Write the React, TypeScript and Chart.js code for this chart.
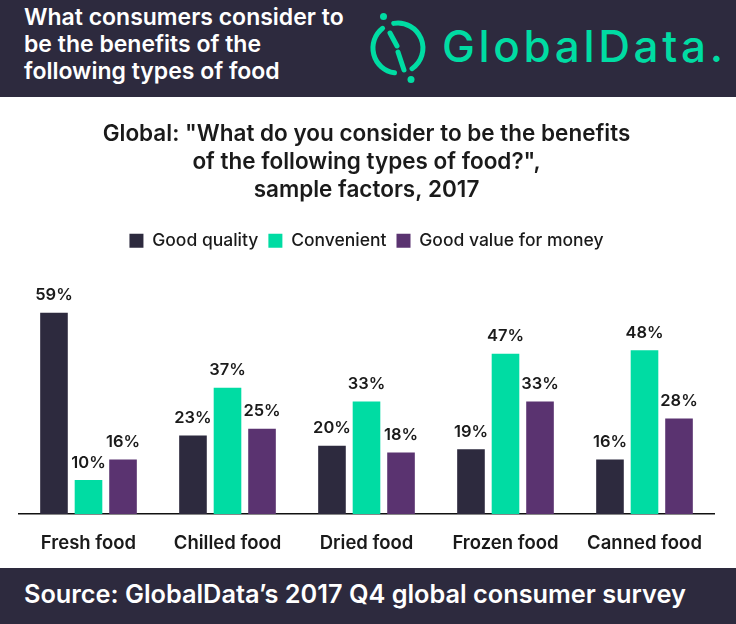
import React, { useEffect, useRef } from "react";
import { Chart, registerables } from "chart.js";

Chart.register(...registerables);

const categories = ["Fresh food", "Chilled food", "Dried food", "Frozen food", "Canned food"];
const goodQuality = [59, 23, 20, 19, 16];
const convenient = [10, 37, 33, 47, 48];
const goodValue = [16, 25, 18, 33, 28];
const seriesNames = ["Good quality", "Convenient", "Good value for money"];
const titleLines = ['Global: "What do you consider to be the benefits', 'of the following types of food?",', "sample factors, 2017"];

const DARK = "#2d2a3e";
const GREEN = "#00dca3";
const PURPLE = "#5a3370";
const FONT = "Inter, Roboto, sans-serif";

const valueLabels = {
  id: "valueLabels",
  afterDatasetsDraw(chart: any) {
    const ctx = chart.ctx;
    ctx.save();
    ctx.font = `600 16.5px ${FONT}`;
    ctx.fillStyle = "#1a1a1a";
    ctx.textAlign = "center";
    ctx.textBaseline = "bottom";
    chart.data.datasets.forEach((ds: any, i: number) => {
      const meta = chart.getDatasetMeta(i);
      meta.data.forEach((bar: any, j: number) => {
        ctx.fillText(ds.data[j] + "%", bar.x, bar.y - 9);
      });
    });
    ctx.restore();
  },
};

const legendSpace = {
  id: "legendSpace",
  beforeInit(chart: any) {
    const lg = chart.legend;
    if (!lg) return;
    const fit = lg.fit;
    lg.fit = function () {
      fit.call(this);
      this.height += 14;
    };
  },
};

function ChartView() {
  const ref = useRef<HTMLCanvasElement>(null);
  useEffect(() => {
    const chart = new Chart(ref.current!, {
      type: "bar",
      data: {
        labels: categories,
        datasets: [
          { label: seriesNames[0], data: goodQuality, backgroundColor: DARK },
          { label: seriesNames[1], data: convenient, backgroundColor: GREEN },
          { label: seriesNames[2], data: goodValue, backgroundColor: PURPLE },
        ],
      },
      options: {
        animation: false,
        responsive: false,
        maintainAspectRatio: false,
        layout: { padding: { left: 19, right: 22, top: 23, bottom: 0 } },
        datasets: { bar: { categoryPercentage: 0.745, barPercentage: 0.8 } } as any,
        scales: {
          x: {
            grid: { display: false, drawTicks: false },
            border: { display: true, color: "#111", width: 1.5 },
            ticks: { font: { family: FONT, size: 18.5, weight: 600 }, color: "#1a1a1a", padding: 18 },
            afterFit: (scale: any) => {
              scale.height = 54;
            },
          },
          y: { display: false, min: 0, max: 70.5 },
        },
        plugins: {
          title: {
            display: true,
            text: titleLines,
            font: { family: FONT, size: 22.5, weight: 600, lineHeight: 1.244 },
            color: "#1a1a1a",
            padding: { top: 0, bottom: 18 },
          },
          legend: {
            display: true,
            labels: {
              font: { family: FONT, size: 17.5, weight: 500 },
              color: "#1a1a1a",
              boxWidth: 14,
              boxHeight: 14,
              padding: 10,
            },
          },
          tooltip: { enabled: false },
        },
      },
      plugins: [valueLabels, legendSpace],
    });
    return () => chart.destroy();
  }, []);
  return <canvas ref={ref} width={736} height={471} style={{ display: "block" }} />;
}

function Logo() {
  const cx = 398, cy = 48, r = 25;
  const pt = (deg: number) => {
    const a = (deg * Math.PI) / 180;
    return `${(cx + r * Math.cos(a)).toFixed(1)} ${(cy + r * Math.sin(a)).toFixed(1)}`;
  };
  return (
    <svg width={736} height={97} style={{ position: "absolute", left: 0, top: 0 }}>
      <path d={`M ${pt(-128)} A ${r} ${r} 0 0 0 ${pt(98)}`} stroke={GREEN} strokeWidth={5} fill="none" strokeLinecap="round" />
      <path d={`M ${pt(-100)} A ${r} ${r} 0 0 1 ${pt(56)}`} stroke={GREEN} strokeWidth={5} fill="none" strokeLinecap="round" />
      <line x1={390} y1={33} x2={397} y2={46} stroke={GREEN} strokeWidth={5} strokeLinecap="round" />
      <line x1={398} y1={52} x2={404} y2={70} stroke={GREEN} strokeWidth={5} strokeLinecap="round" />
      <circle cx={383.5} cy={16.5} r={3.5} fill={GREEN} />
      <circle cx={411} cy={79.5} r={3.5} fill={GREEN} />
      <text x={442} y={62} fill={GREEN} fontFamily={FONT} fontSize={44} fontWeight={500} textLength={281} lengthAdjust="spacing">GlobalData.</text>
    </svg>
  );
}

export default function App() {
  return (
    <div style={{ position: "absolute", left: 0, top: 0, width: 736, height: 624, background: "#fff", overflow: "hidden" }}>
      <div style={{ position: "absolute", left: 0, top: 0, width: 736, height: 97, background: DARK }}>
        <div style={{ position: "absolute", left: 24, top: 4, color: "#fff", fontFamily: FONT, fontWeight: 600, fontSize: 23, lineHeight: "27px" }}>
          What consumers consider to<br />be the benefits of the<br />following types of food
        </div>
        <Logo />
      </div>
      <div style={{ position: "absolute", left: 0, top: 97 }}>
        <ChartView />
      </div>
      <div style={{ position: "absolute", left: 0, top: 568, width: 736, height: 56, background: DARK }}>
        <div style={{ position: "absolute", left: 24, top: 9, color: "#fff", fontFamily: FONT, fontWeight: 600, fontSize: 25.3, lineHeight: "34px" }}>
          Source: GlobalData’s 2017 Q4 global consumer survey
        </div>
      </div>
    </div>
  );
}
